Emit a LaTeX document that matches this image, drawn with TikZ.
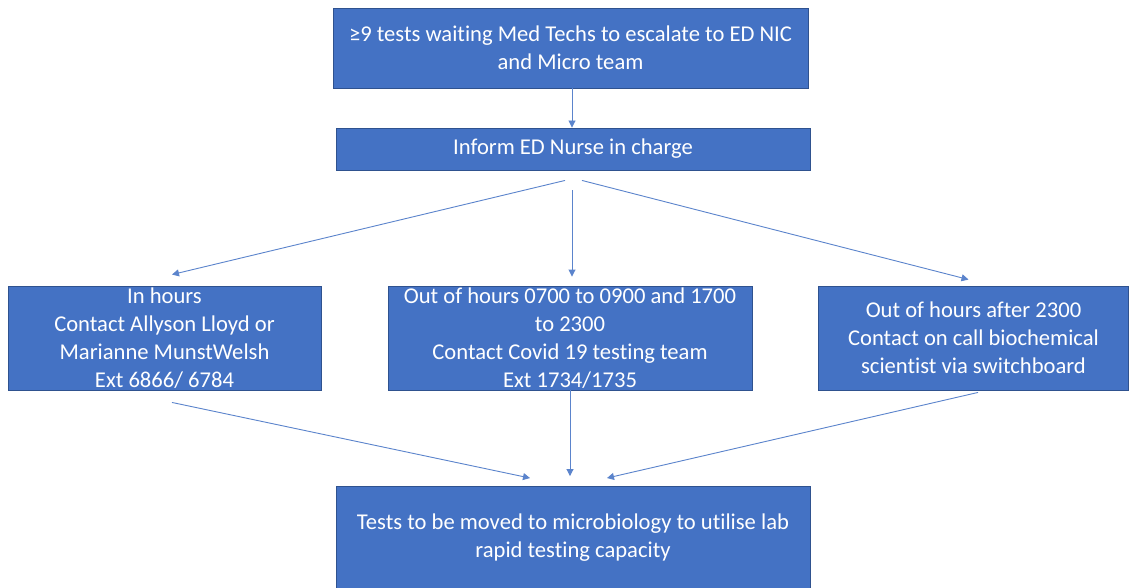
\documentclass[tikz,border=0pt]{standalone}
\usepackage{fontspec}
\setmainfont{Carlito}[Ligatures=NoCommon]
\usetikzlibrary{arrows.meta}
\definecolor{boxblue}{HTML}{4472C4}
\definecolor{boxedge}{HTML}{2F528F}
\definecolor{linkblue}{HTML}{5B84CC}
\tikzset{
  flowbox/.style={rectangle, fill=boxblue, draw=boxedge, line width=0.9pt,
    text=white, align=center, inner sep=0pt,
    font=\fontsize{22.6}{28}\selectfont},
  link/.style={draw=linkblue, line width=0.9pt,
    -{Triangle[width=7pt,length=7pt]}}
}
\begin{document}
\begin{tikzpicture}[x=1pt, y=-1pt]
  \useasboundingbox (0,0) rectangle (1129,588);
  \fill[white] (0,0) rectangle (1129,588);

  \node[flowbox, minimum width=475pt, minimum height=80pt] (escalate) at (570.5,48)
    {≥9 tests waiting Med Techs to escalate to ED NIC\\and Micro team};
  \node[flowbox, minimum width=474pt, minimum height=42pt] (nurse) at (573,149)
    {Inform ED Nurse in charge};
  \node[flowbox, minimum width=313pt, minimum height=104pt] (inhours) at (164.5,338)
    {In hours\\Contact Allyson Lloyd or\\Marianne MunstWelsh\\Ext 6866/ 6784};
  \node[flowbox, minimum width=364pt, minimum height=104pt] (ooh) at (570,338)
    {Out of hours 0700 to 0900 and 1700\\to 2300\\Contact Covid 19 testing team\\Ext 1734/1735};
  \node[flowbox, minimum width=310pt, minimum height=104pt] (after) at (973.5,338)
    {Out of hours after 2300\\Contact on call biochemical\\scientist via switchboard};
  \node[flowbox, minimum width=474pt, minimum height=102pt] (tests) at (573,537.5)
    {Tests to be moved to microbiology to utilise lab\\rapid testing capacity};

  \draw[link] ([xshift=1.5pt]escalate.south) -- ([xshift=-1pt]nurse.north);
  \draw[link] ([xshift=-8pt,yshift=-10pt]nurse.south) -- ([xshift=7.5pt,yshift=11pt]inhours.north);
  \draw[link] ([xshift=-1pt,yshift=-20pt]nurse.south) -- ([xshift=2pt,yshift=9pt]ooh.north);
  \draw[link] ([xshift=9pt,yshift=-10pt]nurse.south) -- ([xshift=-5pt,yshift=6pt]after.north);
  \draw[link] ([xshift=7.5pt,yshift=-12pt]inhours.south) -- ([xshift=-43pt,yshift=8pt]tests.north);
  \draw[link] (ooh.south) -- ([xshift=-3pt,yshift=10pt]tests.north);
  \draw[link] ([xshift=4.5pt,yshift=-2pt]after.south) -- ([xshift=34pt,yshift=8pt]tests.north);
\end{tikzpicture}
\end{document}
